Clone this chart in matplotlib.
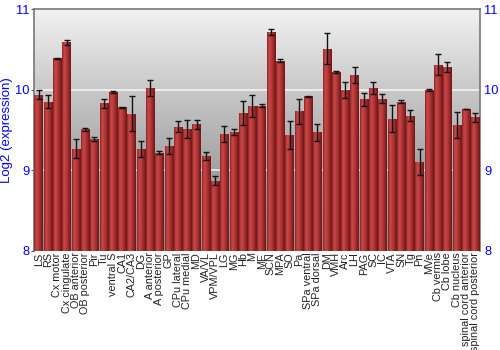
import numpy as np
import matplotlib
matplotlib.use("Agg")
import matplotlib.pyplot as plt
from matplotlib.colors import LinearSegmentedColormap

plt.rcParams['font.family'] = ['Liberation Sans', 'DejaVu Sans']

regions = ["LS", "RS", "Cx motor", "Cx cingulate", "OB anterior", "OB posterior", "Pir", "Tu",
           "ventral S", "CA1", "CA2/CA3", "DG", "A anterior", "A posterior", "GP", "CPu lateral",
           "CPu medial", "MD", "VA/VL", "VPM/VPL", "LG", "MG", "Hb", "M", "ME", "SCN", "MPA", "SO",
           "Pa", "SPa ventral", "SPa dorsal", "DM", "VMH", "Arc", "LH", "PAG", "SC", "IC", "VTA",
           "SN", "Tg", "Pn", "MVe", "Cb vermis", "Cb lobe", "Cb nucleus", "spinal cord anterior",
           "spinal cord posterior"]
values = [9.94, 9.85, 10.39, 10.59, 9.27, 9.51, 9.39, 9.83,
          9.97, 9.78, 9.70, 9.26, 10.02, 9.22, 9.30, 9.54,
          9.51, 9.57, 9.18, 8.87, 9.45, 9.47, 9.71, 9.80, 9.80, 10.71, 10.36, 9.44,
          9.73, 9.92, 9.47, 10.51, 10.22, 10.00, 10.18, 9.88, 10.02, 9.89, 9.64,
          9.85, 9.68, 9.10, 10.00, 10.31, 10.28, 9.56, 9.76,
          9.66]
errors = [0.056, 0.08, 0.006, 0.03, 0.115, 0.017, 0.023, 0.06,
          0.01, 0.007, 0.217, 0.10, 0.095, 0.02, 0.10, 0.07,
          0.11, 0.06, 0.048, 0.054, 0.097, 0.037, 0.145, 0.134, 0.02, 0.037, 0.017, 0.17,
          0.153, 0.005, 0.10, 0.19, 0.017, 0.10, 0.10, 0.083, 0.077, 0.056, 0.17,
          0.017, 0.064, 0.163, 0.014, 0.13, 0.062, 0.163, 0.005,
          0.056]
y_ticks = [8, 9, 10, 11]

fig = plt.figure(figsize=(5, 3.5), dpi=100)
ax = fig.add_axes([0.068, 0.283, 0.892, 0.691])
ymin, ymax = 8, 11
n = len(regions)
ax.set_xlim(-0.5, n - 0.5)
ax.set_ylim(ymin, ymax)

# background gradient
bg = LinearSegmentedColormap.from_list("bg", ["#8c8c8c", "#a2a2a2", "#c8c8c8", "#f2f2f2"])
grad = np.linspace(0, 1, 256).reshape(-1, 1)
ax.imshow(grad, cmap=bg, origin="lower", aspect="auto",
          extent=(-0.5, n - 0.5, ymin, ymax), zorder=0)

for yv in [9, 10]:
    ax.axhline(yv, color="white", lw=1.2, alpha=0.8, zorder=1)

# bars with horizontal gradient
barcm = LinearSegmentedColormap.from_list("bar", ["#8e2424", "#c84848", "#b83a3a", "#962828", "#6e1616"])
hgrad = np.linspace(0, 1, 64).reshape(1, -1)
x = np.arange(n)
bars = ax.bar(x, np.array(values) - ymin, bottom=ymin, width=0.9,
              color="#a83030", edgecolor="none", zorder=2)
for b in bars:
    x0 = b.get_x(); w = b.get_width(); h = b.get_height()
    im = ax.imshow(hgrad, cmap=barcm, aspect="auto",
                   extent=(x0, x0 + w, ymin, ymin + h), zorder=3)
    im.set_clip_path(b)

ax.errorbar(x, values, yerr=errors, fmt="none", ecolor="#111111", elinewidth=1,
            capsize=2.2, capthick=1, zorder=4)

ax.set_xlim(-0.5, n - 0.5)
ax.set_ylim(ymin, ymax)
ax.set_xticks(x)
ax.set_xticklabels(regions, rotation=90, fontsize=7.8, color="#222222")
ax.tick_params(axis="x", length=0, pad=1)
ax.set_yticks(y_ticks)
ax.tick_params(axis="y", which="both", left=True, right=False, labelleft=True, labelright=True,
               labelsize=9.3, length=2, direction="out", pad=1, color="#555555",
               labelcolor="#0000ff")
ax.set_ylabel("Log2 (expression)", color="#0000ff", fontsize=9.5)
ax.yaxis.set_label_coords(-0.046, 0.5)

for s in ["left", "top", "right"]:
    ax.spines[s].set_color("#777777")
    ax.spines[s].set_linewidth(1.2)
ax.spines["bottom"].set_visible(False)

fig.savefig("out.png", dpi=100)
